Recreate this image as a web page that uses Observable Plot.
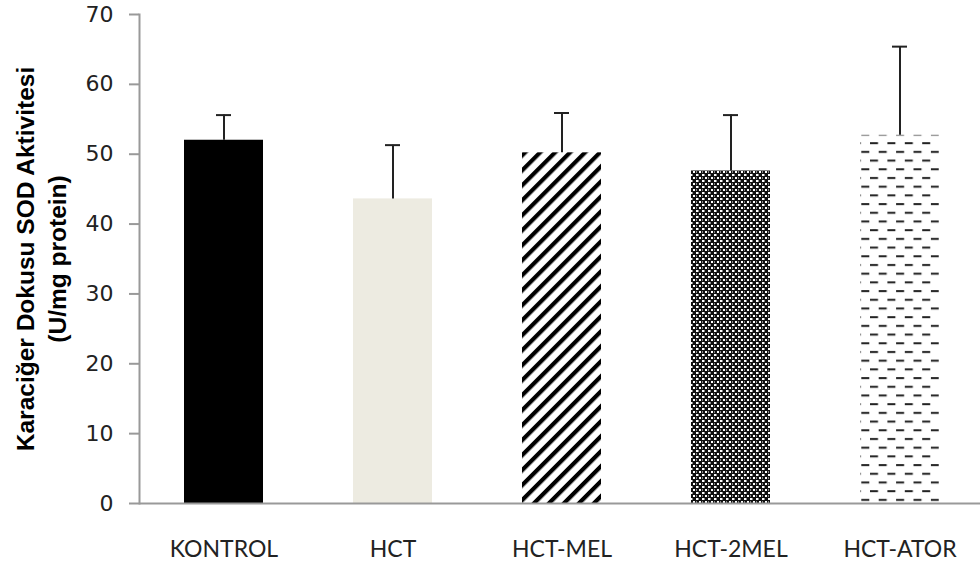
<!DOCTYPE html>
<html><head><meta charset="utf-8">
<script src="https://cdn.jsdelivr.net/npm/d3@7"></script>
<script src="https://cdn.jsdelivr.net/npm/@observablehq/plot@0.6"></script>
<style>body{margin:0;background:#fff}#chart svg{display:block;background:#fff}</style>
</head><body><div id="chart"></div>
<script>
const groups = ["KONTROL", "HCT", "HCT-MEL", "HCT-2MEL", "HCT-ATOR"];
const means = [52.0, 43.6, 50.2, 47.6, 52.7];
const sds = [3.6, 7.7, 5.7, 8.0, 12.7];
const fills = ["#000000", "#edebe1", "url(#pStripe)", "url(#pCross)", "url(#pDash)"];
const yTicks = [0, 10, 20, 30, 40, 50, 60, 70];
const yTitle = "Karaciğer Dokusu SOD Aktivitesi\n(U/mg protein)";

const data = groups.map((g, i) => ({group: g, mean: means[i], sd: sds[i], fill: fills[i]}));

const plot = Plot.plot({
  width: 980,
  height: 564,
  marginTop: 14,
  marginBottom: 61,
  marginLeft: 139,
  marginRight: -4,
  style: {background: "#fff"},
  x: {domain: groups, paddingInner: 0.533, paddingOuter: 0.2665, label: null},
  y: {domain: [0, 70], label: null},
  color: {type: "identity"},
  marks: [
    Plot.barY(data, {x: "group", y: "mean", fill: "fill"}),
    Plot.ruleX(data, {x: "group", y1: "mean", y2: d => d.mean + d.sd, stroke: "#222", strokeWidth: 2}),
    Plot.tickY(data, {x: "group", y: d => d.mean + d.sd, stroke: "#222", strokeWidth: 2, insetLeft: 32, insetRight: 32}),
    Plot.ruleY([0], {stroke: "#999", strokeWidth: 2}),
    Plot.frame({anchor: "left", stroke: "#999", strokeWidth: 2}),
    Plot.axisY({ticks: yTicks, tickSize: 10, text: null, stroke: "#999", strokeWidth: 2}),
    Plot.axisY({ticks: yTicks, tickSize: 0, tickPadding: 26, fill: "#222", fontSize: 22, fontFamily: "DejaVu Sans", label: null}),
    Plot.axisX({tickSize: 0, tickPadding: 37, fill: "#222", fontSize: 23, fontFamily: "Lato", label: null}),
    Plot.text([yTitle], {frameAnchor: "left", textAnchor: "middle", rotate: -90, dx: -99.5, fontSize: 24.5, fontWeight: "bold", fontFamily: "Liberation Sans", lineHeight: 1.27, fill: "#000"})
  ]
});

const svg = d3.select(plot);
const defs = svg.insert("defs", ":first-child");
const ps = defs.append("pattern").attr("id", "pStripe").attr("patternUnits", "userSpaceOnUse")
  .attr("width", 10.6).attr("height", 10.6).attr("patternTransform", "rotate(45)");
ps.append("rect").attr("width", 10.6).attr("height", 10.6).attr("fill", "#fff");
ps.append("rect").attr("x", 0).attr("width", 4.2).attr("height", 10.6).attr("fill", "#000");
const pc = defs.append("pattern").attr("id", "pCross").attr("patternUnits", "userSpaceOnUse")
  .attr("width", 6).attr("height", 6);
pc.append("rect").attr("width", 6).attr("height", 6).attr("fill", "#111");
pc.append("rect").attr("x", 0).attr("y", 0).attr("width", 2).attr("height", 2).attr("fill", "#fff");
pc.append("rect").attr("x", 3).attr("y", 3).attr("width", 2).attr("height", 2).attr("fill", "#fff");
pc.append("rect").attr("x", 2).attr("y", 0).attr("width", 1).attr("height", 2).attr("fill", "#888");
pc.append("rect").attr("x", 0).attr("y", 3).attr("width", 1).attr("height", 2).attr("fill", "#888");
const pd = defs.append("pattern").attr("id", "pDash").attr("patternUnits", "userSpaceOnUse")
  .attr("width", 17.4).attr("height", 17.4);
pd.append("rect").attr("width", 17.4).attr("height", 17.4).attr("fill", "#fff");
pd.append("rect").attr("x", 0).attr("y", 3).attr("width", 8).attr("height", 2).attr("fill", "#222");
pd.append("rect").attr("x", 8.7).attr("y", 11.7).attr("width", 8).attr("height", 2).attr("fill", "#222");

document.getElementById("chart").appendChild(plot);
</script>
</body></html>
